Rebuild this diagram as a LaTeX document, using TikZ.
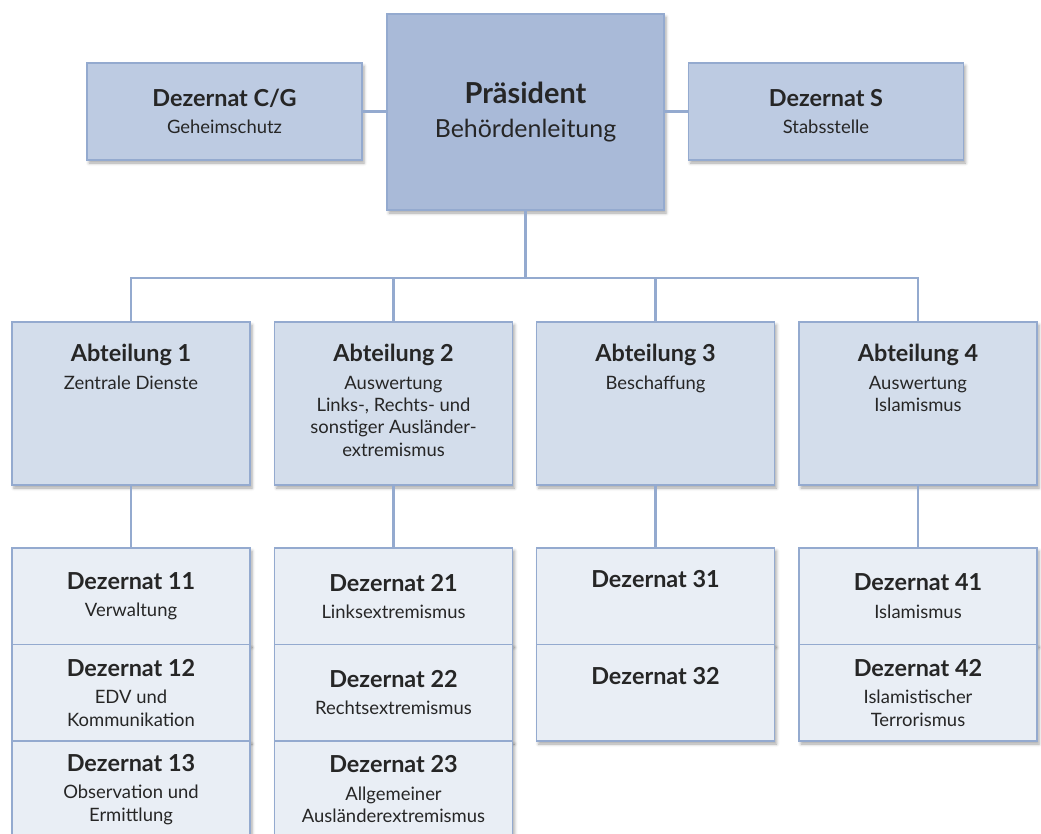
\documentclass[tikz,border=0pt]{standalone}
\usepackage{fontspec}
\setmainfont{Lato}
\usetikzlibrary{shadows.blur}
\definecolor{lineblue}{HTML}{94AACF}
\definecolor{praesfill}{HTML}{A9BAD8}
\definecolor{stabfill}{HTML}{BDCBE2}
\definecolor{abtfill}{HTML}{D3DDEB}
\definecolor{dezfill}{HTML}{E9EEF5}
\definecolor{ink}{HTML}{262626}
\newcommand{\ttl}{\fontsize{23.5}{27}\selectfont\bfseries}
\newcommand{\subtxt}{\fontsize{18.5}{22.5}\selectfont}

\begin{document}
\begin{tikzpicture}[x=1bp,y=-1bp,
    orgbox/.style={draw=lineblue, line width=1.8bp, text=ink, align=center, inner sep=0pt,
        blur shadow={shadow xshift=2bp, shadow yshift=-3bp, shadow blur radius=3bp, shadow opacity=35}},
    praes/.style={orgbox, fill=praesfill, minimum width=277bp, minimum height=196bp, font=\fontsize{25}{34}\selectfont},
    stab/.style={orgbox, fill=stabfill, minimum width=275bp, minimum height=97bp, font=\subtxt},
    abt/.style={orgbox, fill=abtfill, minimum width=238bp, minimum height=163bp},
    abttxt/.style={anchor=north, align=center, inner sep=0pt, text=ink, font=\subtxt},
    dez/.style={orgbox, fill=dezfill, minimum width=238bp, minimum height=96.5bp, font=\subtxt},
    conn/.style={draw=lineblue, line width=2.2bp}]
    \useasboundingbox (0,0) rectangle (1041,834);

    \node[praes] (praes) at (525.5,112) {{\fontsize{29}{34}\selectfont\bfseries Präsident}\\ Behördenleitung};
    \node[stab] (cg) at (224.5,111.5) {{\ttl Dezernat C/G}\\[5bp] Geheimschutz};
    \node[stab] (s) at (826,111.5) {{\ttl Dezernat S}\\[5bp] Stabsstelle};

    \node[abt] (abt1) at (131,403.5) {};
    \node[abt] (abt2) at (393.5,403.5) {};
    \node[abt] (abt3) at (655.5,403.5) {};
    \node[abt] (abt4) at (918,403.5) {};
    \node[abttxt] (abt1t) at ([yshift=-23bp]abt1.north) {{\ttl Abteilung 1}\\[5bp] Zentrale Dienste};
    \node[abttxt] (abt2t) at ([yshift=-23bp]abt2.north) {{\ttl Abteilung 2}\\[5bp] Auswertung\\ Links-, Rechts- und\\ sonstiger Ausländer-\\ extremismus};
    \node[abttxt] (abt3t) at ([yshift=-23bp]abt3.north) {{\ttl Abteilung 3}\\[5bp] Beschaffung};
    \node[abttxt] (abt4t) at ([yshift=-23bp]abt4.north) {{\ttl Abteilung 4}\\[5bp] Auswertung\\ Islamismus};

    \node[dez] (dez11) at (131,596.25) {{\ttl Dezernat 11}\\[5bp] Verwaltung};
    \node[dez] (dez12) at (131,692.75) {{\ttl Dezernat 12}\\[5bp] EDV und\\ Kommunikation};
    \node[dez] (dez13) at (131,789.25) {{\ttl Dezernat 13}\\[5bp] Observation und\\ Ermittlung};

    \node[dez] (dez21) at (393.5,596.25) {{\ttl Dezernat 21}\\[5bp] Linksextremismus};
    \node[dez] (dez22) at (393.5,692.75) {{\ttl Dezernat 22}\\[5bp] Rechtsextremismus};
    \node[dez] (dez23) at (393.5,789.25) {{\ttl Dezernat 23}\\[5bp] Allgemeiner\\ Ausländerextremismus};

    \node[dez] (dez31) at (655.5,596.25) {{\ttl Dezernat 31}\\[5bp] \strut};
    \node[dez] (dez32) at (655.5,692.75) {{\ttl Dezernat 32}\\[5bp] \strut};

    \node[dez] (dez41) at (918,596.25) {{\ttl Dezernat 41}\\[5bp] Islamismus};
    \node[dez] (dez42) at (918,692.75) {{\ttl Dezernat 42}\\[5bp] Islamistischer\\ Terrorismus};

    \coordinate (knot) at (525.5,278);
    \draw[conn] (cg.east) -- (praes.west |- cg.east);
    \draw[conn] (praes.east |- s.west) -- (s.west);
    \draw[conn] (praes.south) -- (knot);
    \foreach \a in {abt1,abt2,abt3,abt4}
        \draw[conn] (knot) -| (\a.north);
    \draw[conn] (abt1) -- (dez11);
    \draw[conn] (abt2) -- (dez21);
    \draw[conn] (abt3) -- (dez31);
    \draw[conn] (abt4) -- (dez41);
\end{tikzpicture}
\end{document}
